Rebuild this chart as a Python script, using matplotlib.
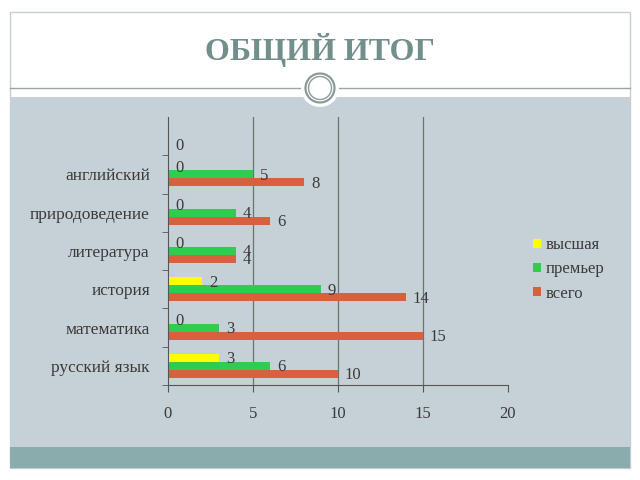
import numpy as np
import matplotlib
matplotlib.use('Agg')
import matplotlib.pyplot as plt
from matplotlib.patches import Rectangle, Circle, Patch
from matplotlib.lines import Line2D

plt.rcParams['font.family'] = ['Liberation Serif', 'DejaVu Serif']

# Data (bottom to top, top slot is an empty category)
subjects = ['русский язык', 'математика', 'история', 'литература',
            'природоведение', 'английский', '']
vysshaya = [3, 0, 2, 0, 0, 0, np.nan]
premier = [6, 3, 9, 4, 4, 5, np.nan]
vsego = [10, 15, 14, 4, 6, 8, 0]
series_names = ['высшая', 'премьер', 'всего']
series_colors = ['#ffff00', '#2fcc4f', '#d9603f']
xticks = [0, 5, 10, 15, 20]

fig = plt.figure(figsize=(6.4, 4.8), dpi=100)
fig.patch.set_facecolor('white')

W, H = 640, 480


def px_rect(x0, y0, x1, y1, **kw):
    # rectangle given in pixel coords measured from top-left
    fig.patches.append(Rectangle((x0 / W, 1 - y1 / H), (x1 - x0) / W, (y1 - y0) / H,
                                 transform=fig.transFigure, figure=fig, zorder=-10, **kw))


# slide decoration
px_rect(10, 12, 630, 468, facecolor='white', edgecolor='#c8cccc', lw=1.0)
px_rect(10, 97, 630, 447, facecolor='#c6d1d7', edgecolor='none')
px_rect(10, 447, 630, 468, facecolor='#8aacac', edgecolor='none')
fig.lines.append(Line2D([10 / W, 630 / W], [1 - 88 / H, 1 - 88 / H], transform=fig.transFigure,
                        color='#9aa5a5', lw=1.0, zorder=-9))
cx, cy = 3.2, 4.8 - 0.88
fig.patches.append(Circle((cx, cy), 0.19, transform=fig.dpi_scale_trans, facecolor='white',
                          edgecolor='none', zorder=-8))
fig.patches.append(Circle((cx, cy), 0.145, transform=fig.dpi_scale_trans, facecolor='white',
                          edgecolor='#8c9a9a', lw=1.6, zorder=-7))
fig.patches.append(Circle((cx, cy), 0.115, transform=fig.dpi_scale_trans, facecolor='white',
                          edgecolor='#8c9a9a', lw=1.0, zorder=-6))

fig.text(0.5, 1 - 50 / H, 'ОБЩИЙ ИТОГ', ha='center', va='center', fontsize=23,
         fontweight='bold', color='#738f8b')

# chart
ax = fig.add_axes([168 / W, 95 / H, 340 / W, 268 / H])
ax.set_facecolor('none')

y = np.arange(len(subjects))
h = 0.21
all_series = [vysshaya, premier, vsego]
for i, (vals, name, col) in enumerate(zip(all_series, series_names, series_colors)):
    pos = y + (1 - i) * h
    ax.barh(pos, vals, height=h, color=col, label=name, zorder=2)
    for p, v in zip(pos, vals):
        if not np.isnan(v):
            ax.annotate(str(int(v)), (v, p), xytext=(5, -1), textcoords='offset points',
                        ha='left', va='center', fontsize=12, color='#3a3a3a', zorder=3)

ax.set_xlim(0, 20)
ax.set_ylim(-0.5, len(subjects) - 0.5)
ax.set_xticks(xticks)
ax.set_xticklabels([str(t) for t in xticks], fontsize=12, color='#3a3a3a')
ax.set_yticks(y[:-1])
ax.set_yticklabels(subjects[:-1], fontsize=12.5, color='#3a3a3a')
ax.set_yticks(np.arange(-0.5, len(subjects) - 1, 1), minor=True)
ax.tick_params(axis='y', which='major', length=0, pad=13)
ax.tick_params(axis='y', which='minor', length=4, color='#555555', direction='out')
ax.tick_params(axis='x', length=5, color='#555555', direction='out', pad=10)

for gx in [5, 10, 15]:
    ax.axvline(gx, color='#6b7373', lw=0.9, zorder=0)

for s in ['top', 'right']:
    ax.spines[s].set_visible(False)
ax.spines['left'].set_color('#555555')
ax.spines['bottom'].set_color('#555555')

handles = [Patch(facecolor=c, label=n) for n, c in zip(series_names, series_colors)]
leg = fig.legend(handles=handles, loc='upper left', bbox_to_anchor=(518 / W, 1 - 222 / H),
                 frameon=False, fontsize=12, handlelength=0.45, handleheight=0.45,
                 handletextpad=0.3, labelspacing=0.5)
for t in leg.get_texts():
    t.set_color('#3a3a3a')

fig.savefig('out.png', dpi=100)
